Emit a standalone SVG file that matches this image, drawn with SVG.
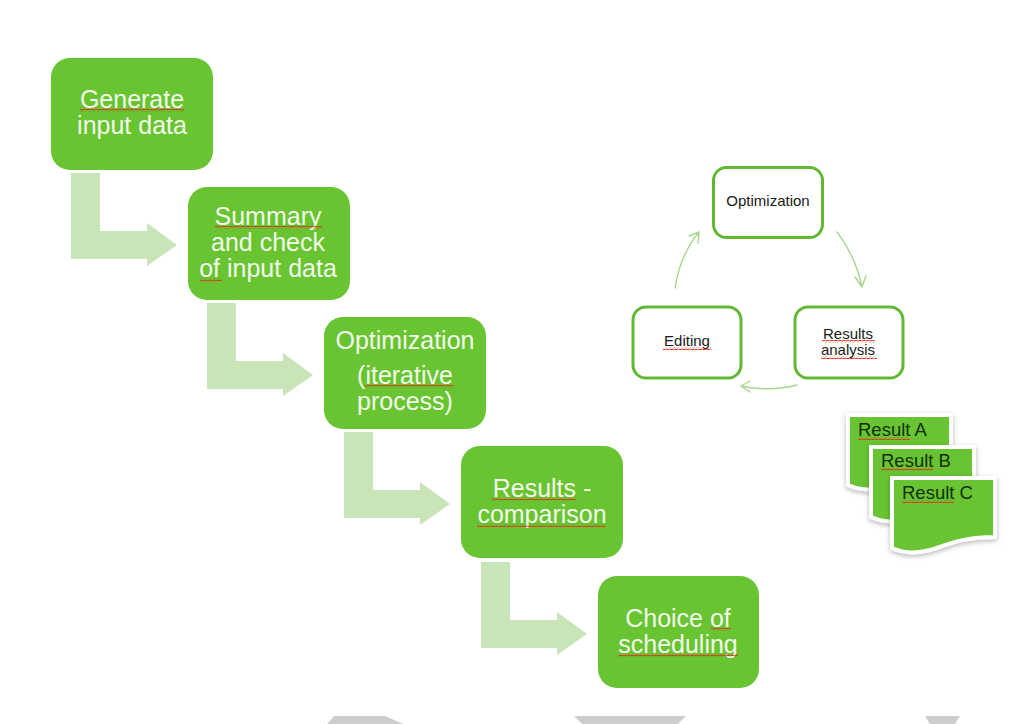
<svg xmlns="http://www.w3.org/2000/svg" width="1024" height="724" viewBox="0 0 1024 724">
<style>
text{font-family:"Liberation Sans",Arial,sans-serif;text-anchor:middle}
.n{fill:#68c431}
.nt{fill:#f2fbec;font-size:25px}
.ar{fill:#c9e5b8}
.c{fill:#fff;stroke:#62b835;stroke-width:3}
.ct{fill:#1a1a1a;font-size:15px}
.cl{fill:none;stroke:#a9d68f;stroke-width:1.4;stroke-linecap:round;stroke-linejoin:round}
.d{fill:#68c431;stroke:#fff;stroke-width:4;filter:url(#sh)}
.dt{fill:#14300a;font-size:18.5px;text-anchor:start}
.g{fill:#cdcdcd}
.sq{fill:url(#wavy)}
</style>
<defs>
<pattern id="wavy" width="4" height="3" patternUnits="userSpaceOnUse">
<path d="M0 2.2L1 .8L3 2.2L4 .8" fill="none" stroke="#e0351f" stroke-width="1"/>
</pattern>
<filter id="sh" x="-10%" y="-10%" width="120%" height="125%">
<feDropShadow dx="0" dy="2" stdDeviation="2.5" flood-color="#000" flood-opacity=".28"/>
</filter>
<path id="bent" d="M0 0H29V58H76V50L106 72L76 93V86H0Z"/>
<path id="doc" d="M0 0H103V59C68 59 53 68 38 72C23 76 11 75 0 70Z"/>
</defs>
<g id="connectors">
<use href="#bent" class="ar" x="71" y="173"/>
<use href="#bent" class="ar" x="207" y="303"/>
<use href="#bent" class="ar" x="344" y="432"/>
<use href="#bent" class="ar" x="481" y="562"/>
<path class="cl" d="M837 232Q855 255 862 287M855 277L862 287L866 276"/>
<path class="cl" d="M797 385Q770 392 741 386M750 381L741 386L750 392"/>
<path class="cl" d="M675 288Q680 255 699 232M689 236L699 232L698 243"/>
</g>
<g id="node-generate"><rect class="n" x="51" y="58" width="162" height="112" rx="19"/>
<text class="nt" x="132" y="108">Generate</text><text class="nt" x="132" y="134">input data</text><rect class="sq" x="80" y="109" width="104" height="3"/></g>
<g id="node-summary"><rect class="n" x="188" y="187" width="162" height="113" rx="19"/>
<text class="nt" x="268" y="225">Summary</text><text class="nt" x="268" y="251">and check</text><text class="nt" x="268" y="277">of input data</text><rect class="sq" x="215" y="226" width="107" height="3"/><rect class="sq" x="200" y="278" width="22" height="3"/></g>
<g id="node-optimization"><rect class="n" x="324" y="317" width="162" height="112" rx="19"/>
<text class="nt" x="405" y="349">Optimization</text><text class="nt" x="405" y="384">(iterative</text><text class="nt" x="405" y="410">process)</text><rect class="sq" x="365" y="385" width="89" height="3"/></g>
<g id="node-results"><rect class="n" x="461" y="446" width="162" height="112" rx="19"/>
<text class="nt" x="542" y="497">Results -</text><text class="nt" x="542" y="523">comparison</text><rect class="sq" x="492" y="498" width="84" height="3"/><rect class="sq" x="477" y="524" width="129" height="3"/></g>
<g id="node-choice"><rect class="n" x="598" y="576" width="161" height="112" rx="19"/>
<text class="nt" x="678" y="627">Choice of</text><text class="nt" x="678" y="653">scheduling</text><rect class="sq" x="711" y="628" width="20" height="3"/><rect class="sq" x="618" y="654" width="120" height="3"/></g>
<g id="node-cycle-optimization"><rect class="c" x="713.500" y="167.500" width="109" height="70" rx="13"/><text class="ct" x="768" y="206">Optimization</text></g>
<g id="node-cycle-results"><rect class="c" x="795" y="307" width="108" height="71" rx="13"/><text class="ct" x="848" y="339">Results</text><text class="ct" x="848" y="355">analysis</text><rect class="sq" x="822" y="340" width="53" height="3"/><rect class="sq" x="821" y="356" width="56" height="3"/></g>
<g id="node-cycle-editing"><rect class="c" x="633" y="307" width="108" height="71" rx="13"/><text class="ct" x="687" y="346">Editing</text><rect class="sq" x="663" y="347" width="48" height="3"/></g>
<g id="node-result-a"><use href="#doc" class="d" x="848" y="415"/><text class="dt" x="858" y="436">Result A</text><rect class="sq" x="858" y="437" width="52" height="3"/></g>
<g id="node-result-b"><use href="#doc" class="d" x="871" y="447"/><text class="dt" x="881" y="467">Result B</text><rect class="sq" x="881" y="468" width="52" height="3"/></g>
<g id="node-result-c"><use href="#doc" class="d" x="892" y="478"/><text class="dt" x="902" y="499">Result C</text><rect class="sq" x="902" y="500" width="52" height="3"/></g>
<g id="bottom-shapes">
<path class="g" d="M334 716H385L403 724H327Z"/>
<path class="g" d="M574 716H686L678 724H582Z"/>
<path class="g" d="M925 716H960L955 724H930Z"/>
</g>
</svg>
